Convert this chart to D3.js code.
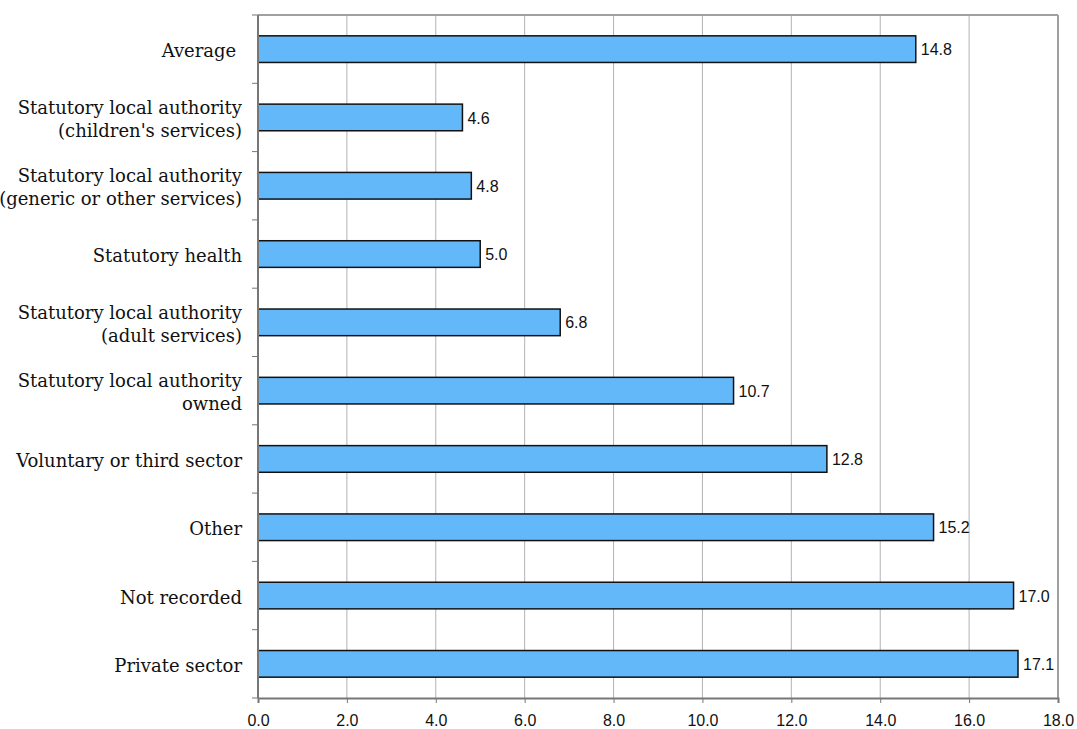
<!DOCTYPE html>
<html><head><meta charset="utf-8">
<script src="https://cdn.jsdelivr.net/npm/d3@7"></script>
<style>body{margin:0;background:#fff}svg{display:block}</style>
</head><body>
<svg id="c" width="1077" height="729"></svg>
<script>
const categories = [
  ["Average\u00a0"],
  ["Statutory local authority", "(children's services)"],
  ["Statutory local authority", "(generic or other services)"],
  ["Statutory health"],
  ["Statutory local authority", "(adult services)"],
  ["Statutory local authority", "owned"],
  ["Voluntary or third sector"],
  ["Other"],
  ["Not recorded"],
  ["Private sector"]
];
const values = [14.8, 4.6, 4.8, 5.0, 6.8, 10.7, 12.8, 15.2, 17.0, 17.1];
const xTicks = [0, 2, 4, 6, 8, 10, 12, 14, 16, 18];

const svg = d3.select("#c");
const m = {left: 258, right: 1058, top: 15, bottom: 698};
const x = d3.scaleLinear().domain([0, 18]).range([m.left, m.right]);
const y = d3.scaleBand().domain(d3.range(categories.length)).range([m.top, m.bottom]).padding(0);
const barH = y.bandwidth() * 0.39;

// grid
svg.append("g").selectAll("line").data(xTicks.slice(1)).join("line")
  .attr("x1", d => x(d)).attr("x2", d => x(d))
  .attr("y1", m.top).attr("y2", m.bottom)
  .attr("stroke", d => d === 18 ? "#a0a0a0" : "#b3b3b3").attr("stroke-width", d => d === 18 ? 2 : 1);
// top frame
svg.append("line").attr("x1", m.left).attr("x2", m.right).attr("y1", m.top).attr("y2", m.top)
  .attr("stroke", "#a0a0a0").attr("stroke-width", 2);

// bars
svg.append("g").selectAll("rect").data(values).join("rect")
  .attr("x", x(0)).attr("y", (d, i) => y(i) + (y.bandwidth() - barH) / 2)
  .attr("width", d => x(d) - x(0)).attr("height", barH)
  .attr("fill", "#63b8fa").attr("stroke", "#111").attr("stroke-width", 1.5);

// value labels
svg.append("g").selectAll("text").data(values).join("text")
  .attr("x", d => x(d) + 5).attr("y", (d, i) => y(i) + y.bandwidth() / 2)
  .attr("dy", "0.38em").attr("font-family", "Liberation Sans, Arial, sans-serif")
  .attr("font-size", 16).attr("fill", "#111").text(d => d.toFixed(1));

// x axis
const xAxis = d3.axisBottom(x).tickValues(xTicks).tickFormat(d => d.toFixed(1)).tickSize(5).tickPadding(12);
const gx = svg.append("g").attr("transform", `translate(0,${m.bottom})`).call(xAxis);
gx.select(".domain").attr("stroke", "#777").attr("stroke-width", 2);
gx.selectAll(".tick line").attr("stroke", "#777");
gx.selectAll("text").attr("font-family", "Liberation Sans, Arial, sans-serif").attr("font-size", 16).attr("fill", "#111");

// y axis
const yEdges = d3.range(categories.length + 1);
svg.append("g").selectAll("line").data(yEdges).join("line")
  .attr("x1", m.left - 6).attr("x2", m.left)
  .attr("y1", d => m.top + d * y.bandwidth()).attr("y2", d => m.top + d * y.bandwidth())
  .attr("stroke", "#777");
svg.append("line").attr("x1", m.left).attr("x2", m.left).attr("y1", m.top).attr("y2", m.bottom)
  .attr("stroke", "#777").attr("stroke-width", 2);

// category labels
const lab = svg.append("g").selectAll("text").data(categories).join("text")
  .attr("text-anchor", "end").attr("font-family", "DejaVu Serif, serif")
  .attr("font-size", 18).attr("fill", "#111")
  .attr("transform", (d, i) => `translate(${m.left - 16},${y(i) + y.bandwidth() / 2})`);
lab.each(function(d) {
  const t = d3.select(this);
  const lh = 23;
  d.forEach((s, k) => {
    t.append("tspan").attr("x", 0).attr("y", (k - (d.length - 1) / 2) * lh).attr("dy", "0.45em")
      .style("white-space", "pre").text(s);
  });
});
</script>
</body></html>
